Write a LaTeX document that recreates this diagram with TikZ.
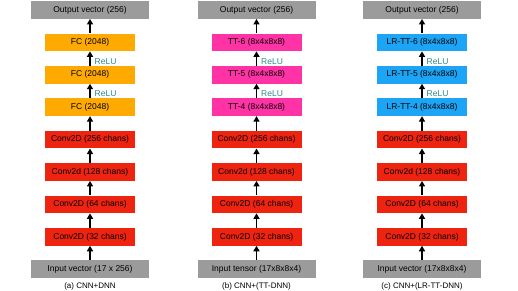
\documentclass[tikz,border=0pt]{standalone}
\usepackage{fontspec}
\setmainfont{Liberation Sans}
\usetikzlibrary{arrows.meta, positioning}
\definecolor{iogray}{HTML}{9B9B9B}
\definecolor{fcorange}{HTML}{FFAA00}
\definecolor{convred}{HTML}{EE2410}
\definecolor{ttpink}{HTML}{FF33A6}
\definecolor{lrblue}{HTML}{1CA4F5}
\definecolor{relugreen}{HTML}{2E8A8A}

\begin{document}
\begin{tikzpicture}[
      x=1pt, y=1pt,
      node distance=14.5pt,
      box/.style={align=center, font=\fontsize{8.5}{10}\selectfont,
                  inner sep=2pt, minimum height=17.5pt, minimum width=90pt},
      io/.style={box, fill=iogray, minimum width=118pt},
      fc/.style={box, fill=fcorange},
      tt/.style={box, fill=ttpink},
      lrtt/.style={box, fill=lrblue},
      conv/.style={box, fill=convred},
      act/.style={right, xshift=3pt, inner sep=1pt, pos=0.3,
                  font=\fontsize{8.5}{10}\selectfont, text=relugreen},
      subcap/.style={font=\fontsize{8}{9.5}\selectfont, inner sep=1pt},
      flow/.style={->, line width=1.4pt},
      >={Triangle[length=5.5pt, width=6pt]}]
    \useasboundingbox (0,0) rectangle (518,-291);

    % (a) CNN+DNN
    \node[io] (outa) at (90,-10) {Output vector (256)};
    \node[fc, below=of outa] (fc3a) {FC (2048)};
    \node[fc, below=of fc3a] (fc2a) {FC (2048)};
    \node[fc, below=of fc2a] (fc1a) {FC (2048)};
    \node[conv, below=of fc1a] (c256a) {Conv2D (256 chans)};
    \node[conv, below=of c256a] (c128a) {Conv2d (128 chans)};
    \node[conv, below=of c128a] (c64a) {Conv2D (64 chans)};
    \node[conv, below=of c64a] (c32a) {Conv2D (32 chans)};
    \node[io, below=of c32a] (ina) {Input vector (17 x 256)};
    \node[subcap, below=3pt of ina] (capa) {(a) CNN+DNN};
    \draw[flow] (ina) -- (c32a);
    \draw[flow] (c32a) -- (c64a);
    \draw[flow] (c64a) -- (c128a);
    \draw[flow] (c128a) -- (c256a);
    \draw[flow] (c256a) -- (fc1a);
    \draw[flow] (fc1a) -- node[act] {ReLU} (fc2a);
    \draw[flow] (fc2a) -- node[act] {ReLU} (fc3a);
    \draw[flow] (fc3a) -- (outa);

    % (b) CNN+(TT-DNN)
    \node[io] (outb) at (256.5,-10) {Output vector (256)};
    \node[tt, below=of outb] (tt6b) {TT-6 (8x4x8x8)};
    \node[tt, below=of tt6b] (tt5b) {TT-5 (8x4x8x8)};
    \node[tt, below=of tt5b] (tt4b) {TT-4 (8x4x8x8)};
    \node[conv, below=of tt4b] (c256b) {Conv2D (256 chans)};
    \node[conv, below=of c256b] (c128b) {Conv2d (128 chans)};
    \node[conv, below=of c128b] (c64b) {Conv2D (64 chans)};
    \node[conv, below=of c64b] (c32b) {Conv2D (32 chans)};
    \node[io, below=of c32b] (inb) {Input tensor (17x8x8x4)};
    \node[subcap, below=3pt of inb] (capb) {(b) CNN+(TT-DNN)};
    \draw[flow] (inb) -- (c32b);
    \draw[flow] (c32b) -- (c64b);
    \draw[flow] (c64b) -- (c128b);
    \draw[flow] (c128b) -- (c256b);
    \draw[flow] (c256b) -- (tt4b);
    \draw[flow] (tt4b) -- node[act] {ReLU} (tt5b);
    \draw[flow] (tt5b) -- node[act] {ReLU} (tt6b);
    \draw[flow] (tt6b) -- (outb);

    % (c) CNN+(LR-TT-DNN)
    \node[io] (outc) at (422,-10) {Output vector (256)};
    \node[lrtt, below=of outc] (lr6c) {LR-TT-6 (8x4x8x8)};
    \node[lrtt, below=of lr6c] (lr5c) {LR-TT-5 (8x4x8x8)};
    \node[lrtt, below=of lr5c] (lr4c) {LR-TT-4 (8x4x8x8)};
    \node[conv, below=of lr4c] (c256c) {Conv2D (256 chans)};
    \node[conv, below=of c256c] (c128c) {Conv2d (128 chans)};
    \node[conv, below=of c128c] (c64c) {Conv2D (64 chans)};
    \node[conv, below=of c64c] (c32c) {Conv2D (32 chans)};
    \node[io, below=of c32c] (inc) {Input vector (17x8x8x4)};
    \node[subcap, below=3pt of inc] (capc) {(c) CNN+(LR-TT-DNN)};
    \draw[flow] (inc) -- (c32c);
    \draw[flow] (c32c) -- (c64c);
    \draw[flow] (c64c) -- (c128c);
    \draw[flow] (c128c) -- (c256c);
    \draw[flow] (c256c) -- (lr4c);
    \draw[flow] (lr4c) -- node[act] {ReLU} (lr5c);
    \draw[flow] (lr5c) -- node[act] {ReLU} (lr6c);
    \draw[flow] (lr6c) -- (outc);
\end{tikzpicture}
\end{document}
